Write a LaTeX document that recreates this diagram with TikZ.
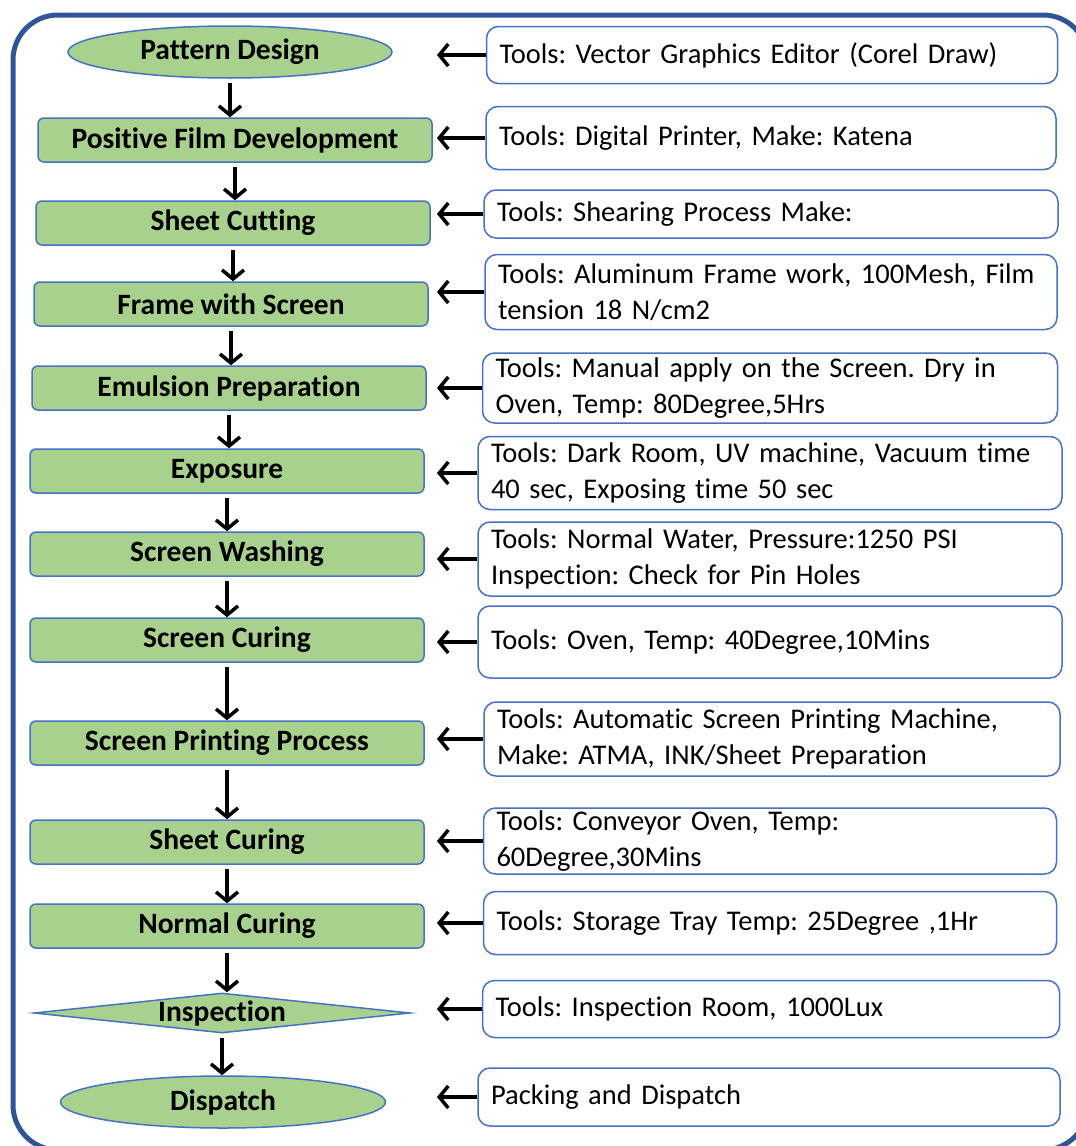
\documentclass[tikz,border=0pt]{standalone}
\usepackage{fontspec}
\setmainfont{Carlito}[Ligatures=NoCommon]
\usetikzlibrary{shapes.geometric,arrows.meta}
\frenchspacing

\definecolor{framebl}{HTML}{2F5597}
\definecolor{edgebl}{HTML}{4472C4}
\definecolor{stagegr}{HTML}{A9D18E}

\tikzset{
  stage/.style={draw=edgebl, line width=1.5pt, fill=stagegr, inner sep=0pt,
    font=\fontsize{29.5}{34}\selectfont\bfseries},
  stagebox/.style={stage, rectangle, rounded corners=6pt, minimum width=394pt, minimum height=44pt},
  toolbox/.style={draw=edgebl, line width=1.5pt, fill=white, rounded corners=12pt,
    align=left, inner xsep=13pt, inner ysep=0pt, font=\fontsize{28.5}{36}\selectfont},
  arr/.style={line width=3.5pt, -{Straight Barb[length=9pt,width=22pt]}}
}

\begin{document}
\begin{tikzpicture}[x=1pt, y=-1pt]
  \useasboundingbox (0,0) rectangle (1076,1146);
  \clip (0,0) rectangle (1076,1146);
  \draw[framebl, line width=5pt, rounded corners=45pt] (13,15) rectangle (1088,1150);

  \node[stage, ellipse, minimum width=324pt, minimum height=52pt] (s1) at (230,52) {Pattern Design};
  \foreach \n/\x/\y/\t in {2/235/140/Positive Film Development, 3/233/223/Sheet Cutting,
      4/231/304/Frame with Screen, 5/229/388/Emulsion Preparation, 6/227/471/Exposure,
      7/227/554/Screen Washing, 8/227/640/Screen Curing, 9/227/743/Screen Printing Process,
      10/227/842/Sheet Curing, 11/227/926/Normal Curing}
    \node[stagebox] (s\n) at (\x,\y) {\t};
  \node[stage, diamond, minimum width=376pt, minimum height=40pt,
    label={[font=\fontsize{29.5}{34}\selectfont\bfseries]center:Inspection}] (s12) at (222,1013) {};
  \node[stage, ellipse, minimum width=325pt, minimum height=52pt] (s13) at (223,1102) {Dispatch};

  \foreach \n/\x/\y/\w/\h/\t in {
      1/772/55/571/57/{Tools: Vector Graphics Editor (Corel Draw)},
      2/771/138/570/63/{Tools: Digital Printer, Make: Katena},
      3/771/214/574/48/{Tools: Shearing Process Make:},
      4/771/292/572/75/{Tools: Aluminum Frame work, 100Mesh, Film\\tension 18 N/cm2},
      5/770/388/575/70/{Tools: Manual apply on the Screen. Dry in\\Oven, Temp: 80Degree,5Hrs},
      6/770/473/584/73/{Tools: Dark Room, UV machine, Vacuum time\\40 sec, Exposing time 50 sec},
      7/770/559/584/74/{Tools: Normal Water, Pressure:1250 PSI\\Inspection: Check for Pin Holes},
      8/770/642/584/72/{Tools: Oven, Temp: 40Degree,10Mins},
      9/772/739/576/74/{Tools: Automatic Screen Printing Machine,\\Make: ATMA, INK/Sheet Preparation},
      10/770/841/573/66/{Tools: Conveyor Oven, Temp:\\60Degree,30Mins},
      11/770/923/573/63/{Tools: Storage Tray Temp: 25Degree ,1Hr},
      12/771/1009/577/57/{Tools: Inspection Room, 1000Lux},
      13/769/1097/582/58/{Packing and Dispatch}}
    \node[toolbox, minimum width=\w pt, minimum height=\h pt, text width=\w pt-26pt] (t\n) at (\x,\y) {\t};

  \coordinate (tip) at (437,0);
  \foreach \n in {1,...,13}
    \draw[arr] (t\n.west) -- (t\n.west -| tip);

  \foreach \a/\b in {1/2,2/3,3/4,4/5,5/6,6/7,7/8,8/9,9/10,10/11,11/12,12/13}
    \draw[arr, shorten <=4pt] (s\a.south) -- (s\a.south |- s\b.north);
\end{tikzpicture}
\end{document}
